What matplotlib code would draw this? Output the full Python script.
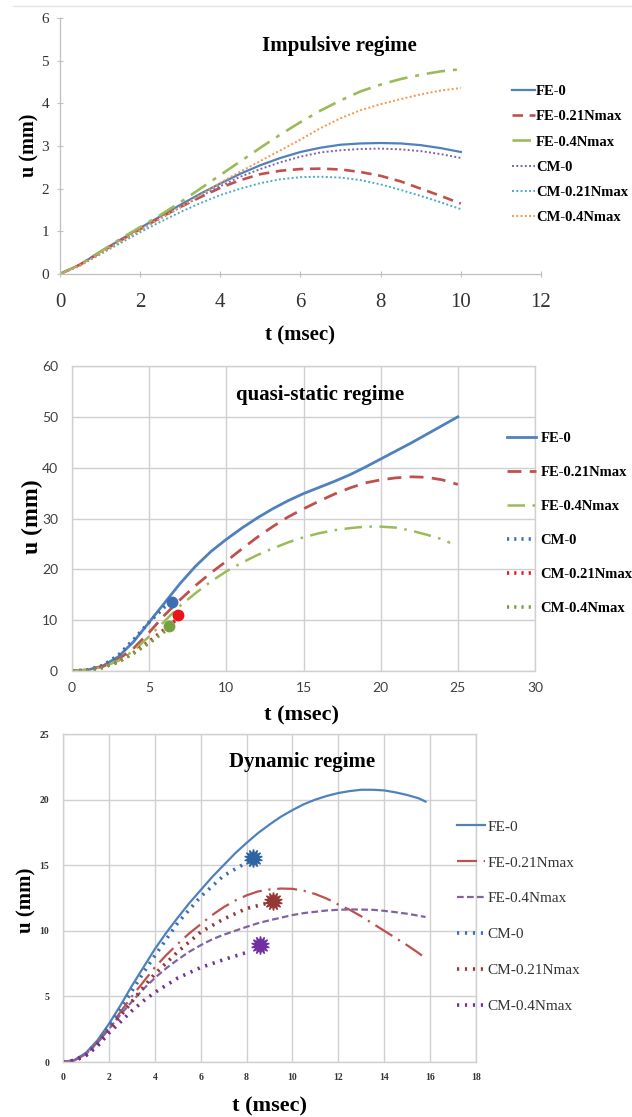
import matplotlib
matplotlib.use("Agg")
import matplotlib.pyplot as plt
from matplotlib.lines import Line2D

SERIF = "Liberation Serif"
SANS = "Lato"

# ---------------- Impulsive regime ----------------
t_imp = [0, 0.5, 1, 1.5, 2, 2.5, 3, 3.5, 4, 4.5, 5, 5.5, 6, 6.5, 7, 7.5, 8, 8.5, 9, 9.5, 10]
imp_fe0 = [0, 0.22, 0.52, 0.80, 1.08, 1.35, 1.62, 1.88, 2.12, 2.35, 2.55, 2.72, 2.86, 2.96, 3.03, 3.06, 3.07, 3.06, 3.02, 2.95, 2.86]
imp_fe021 = [0, 0.22, 0.50, 0.78, 1.05, 1.32, 1.57, 1.80, 2.02, 2.20, 2.34, 2.42, 2.46, 2.47, 2.45, 2.39, 2.30, 2.17, 2.00, 1.83, 1.65]
imp_fe04 = [0, 0.22, 0.52, 0.82, 1.10, 1.38, 1.68, 2.00, 2.32, 2.64, 2.96, 3.27, 3.56, 3.83, 4.07, 4.28, 4.44, 4.57, 4.67, 4.75, 4.80]
imp_cm0 = [0, 0.20, 0.48, 0.76, 1.03, 1.30, 1.56, 1.82, 2.06, 2.28, 2.46, 2.62, 2.75, 2.85, 2.90, 2.93, 2.94, 2.92, 2.88, 2.81, 2.72]
imp_cm021 = [0, 0.20, 0.46, 0.72, 0.98, 1.22, 1.45, 1.66, 1.85, 2.00, 2.13, 2.22, 2.27, 2.28, 2.26, 2.20, 2.10, 1.97, 1.83, 1.68, 1.52]
imp_cm04 = [0, 0.20, 0.48, 0.76, 1.03, 1.30, 1.57, 1.85, 2.14, 2.40, 2.65, 2.90, 3.15, 3.42, 3.65, 3.84, 3.98, 4.10, 4.21, 4.30, 4.36]

# ---------------- Quasi-static regime ----------------
t_qs = list(range(0, 26))
qs_fe0 = [0, 0.2, 1.0, 2.8, 5.8, 9.6, 13.4, 17.2, 20.6, 23.5, 25.9, 28.1, 30.1, 31.9, 33.5, 34.9, 36.1, 37.3, 38.6, 40.1, 41.7, 43.3, 44.9, 46.6, 48.3, 50.0]
qs_fe021 = [0, 0.2, 0.9, 2.3, 4.5, 7.6, 11.0, 14.0, 16.8, 19.3, 21.6, 24.0, 26.3, 28.4, 30.3, 31.9, 33.4, 34.8, 36.0, 37.0, 37.6, 38.0, 38.2, 38.1, 37.6, 36.7]
t_qs_fe04 = list(range(0, 25)) + [24.5]
qs_fe04 = [0, 0.2, 0.8, 2.0, 4.0, 6.8, 9.8, 12.8, 15.3, 17.6, 19.6, 21.3, 22.8, 24.1, 25.3, 26.3, 27.1, 27.7, 28.1, 28.4, 28.4, 28.2, 27.6, 26.8, 25.9, 25.2]
t_qs_cm0 = [0, 1, 2, 3, 4, 5, 6, 6.4]
qs_cm0 = [0, 0.2, 1.1, 3.1, 6.2, 9.6, 12.6, 13.5]
t_qs_cm021 = [0, 1, 2, 3, 4, 5, 6, 6.8]
qs_cm021 = [0, 0.1, 0.7, 1.8, 3.6, 5.8, 8.2, 10.2]
t_qs_cm04 = [0, 1, 2, 3, 4, 5, 6, 6.3]
qs_cm04 = [0, 0.1, 0.7, 1.8, 3.5, 5.5, 7.8, 8.6]
qs_fail_t = [6.5, 6.9, 6.3]
qs_fail_u = [13.6, 11.1, 8.8]

# ---------------- Dynamic regime ----------------
t_dyn = [0, 0.5, 1, 1.5, 2, 2.5, 3, 3.5, 4, 4.5, 5, 5.5, 6, 6.5, 7, 7.5, 8, 8.5, 9, 9.5,
         10, 10.5, 11, 11.5, 12, 12.5, 13, 13.5, 14, 14.5, 15, 15.5, 15.8]
dyn_fe0 = [0, 0.15, 0.7, 1.65, 2.9, 4.3, 5.8, 7.2, 8.6, 9.85, 11.0, 12.1, 13.1, 14.1, 15.0, 15.9, 16.7, 17.45, 18.1, 18.7,
           19.2, 19.65, 20.0, 20.28, 20.5, 20.65, 20.75, 20.75, 20.7, 20.55, 20.35, 20.1, 19.85]
dyn_fe021 = [0, 0.13, 0.6, 1.5, 2.6, 3.8, 5.0, 6.1, 7.2, 8.15, 9.0, 9.8, 10.5, 11.2, 11.8, 12.3, 12.7, 13.0, 13.15, 13.22,
             13.2, 13.05, 12.8, 12.45, 12.0, 11.6, 11.1, 10.55, 10.0, 9.45, 8.9, 8.3, 7.9]
dyn_fe04 = [0, 0.13, 0.6, 1.45, 2.5, 3.6, 4.6, 5.55, 6.4, 7.15, 7.8, 8.4, 8.9, 9.35, 9.7, 10.0, 10.3, 10.58, 10.8, 11.0,
            11.2, 11.35, 11.45, 11.55, 11.6, 11.63, 11.62, 11.6, 11.52, 11.42, 11.3, 11.15, 11.05]
t_dyn_cm0 = [0, 0.5, 1, 1.5, 2, 2.5, 3, 3.5, 4, 5, 6, 7, 8, 8.2]
dyn_cm0 = [0, 0.13, 0.6, 1.5, 2.7, 4.0, 5.4, 6.8, 8.1, 10.6, 12.6, 14.2, 15.2, 15.4]
t_dyn_cm021 = [0, 0.5, 1, 1.5, 2, 2.5, 3, 3.5, 4, 5, 6, 7, 8, 8.9]
dyn_cm021 = [0, 0.1, 0.5, 1.3, 2.4, 3.5, 4.6, 5.7, 6.7, 8.4, 9.9, 10.9, 11.7, 12.1]
t_dyn_cm04 = [0, 0.5, 1, 1.5, 2, 2.5, 3, 3.5, 4, 5, 6, 7, 8]
dyn_cm04 = [0, 0.1, 0.5, 1.2, 2.2, 3.05, 3.9, 4.65, 5.3, 6.4, 7.2, 7.8, 8.35]
dyn_fail_t = [8.3, 9.15, 8.6]
dyn_fail_u = [15.55, 12.3, 8.95]

labels = ["FE-0", "FE-0.21Nmax", "FE-0.4Nmax", "CM-0", "CM-0.21Nmax", "CM-0.4Nmax"]

BLUE = "#4F81BD"
RED = "#C0504D"
GREEN = "#9BBB59"
PURPLE = "#8064A2"
CYAN = "#4BACC6"
ORANGE = "#F79646"
GRID = "#D0D0D0"

W, H = 632, 1117
fig = plt.figure(figsize=(W / 100, H / 100), dpi=100)


def rect(x0, y0, x1, y1):
    return [x0 / W, 1 - y1 / H, (x1 - x0) / W, (y1 - y0) / H]


# thin separator at the very top
fig.add_artist(Line2D([13 / W, 1], [1 - 6 / H, 1 - 6 / H], color="#E3E3E3", lw=1.0))

# ====== Panel 1 ======
ax1 = fig.add_axes(rect(60, 18, 541, 274))
ax1.plot(t_imp, imp_fe0, color=BLUE, lw=1.6, label=labels[0])
ax1.plot(t_imp, imp_fe021, color=RED, lw=1.9, ls=(0, (4, 2.5)), label=labels[1])
ax1.plot(t_imp, imp_fe04, color=GREEN, lw=1.9, ls=(0, (7, 3, 1.5, 3)), label=labels[2])
ax1.plot(t_imp, imp_cm0, color=PURPLE, lw=1.4, ls=(0, (1, 1.2)), label=labels[3])
ax1.plot(t_imp, imp_cm021, color=CYAN, lw=1.4, ls=(0, (1, 1.2)), label=labels[4])
ax1.plot(t_imp, imp_cm04, color=ORANGE, lw=1.4, ls=(0, (1, 1.2)), label=labels[5])
ax1.set_xlim(0, 12)
ax1.set_ylim(0, 6)
ax1.set_xticks(range(0, 13, 2))
ax1.set_yticks(range(0, 7))
for s in ["top", "right"]:
    ax1.spines[s].set_visible(False)
for s in ["left", "bottom"]:
    ax1.spines[s].set_color("#BFBFBF")
    ax1.spines[s].set_linewidth(0.9)
ax1.tick_params(axis="both", color="#BFBFBF", length=4, direction="inout", width=0.8)
ax1.tick_params(axis="x", labelsize=15, pad=12, labelcolor="#333333")
ax1.tick_params(axis="y", labelsize=11, pad=6, labelcolor="#333333")
for lab in ax1.get_xticklabels() + ax1.get_yticklabels():
    lab.set_fontfamily(SERIF)
ax1.text(0.58, 0.89, "Impulsive regime", transform=ax1.transAxes, ha="center", va="center",
         fontsize=15, fontweight="bold", family=SERIF)
fig.text(300 / W, 1 - 335 / H, "t (msec)", ha="center", va="center", fontsize=15,
         fontweight="bold", family=SERIF)
fig.text(29 / W, 1 - 145 / H, "u (mm)", ha="center", va="center", rotation=90,
         fontsize=14.5, fontweight="bold", family=SERIF)
ax1.legend(loc="upper left", bbox_to_anchor=(512 / W, 1 - 85 / H), bbox_transform=fig.transFigure,
           frameon=False, prop={"family": SERIF, "weight": "bold", "size": 10.5},
           handlelength=1.55, handletextpad=0.1, labelspacing=0.82, borderpad=0, borderaxespad=0)

# ====== Panel 2 ======
ax2 = fig.add_axes(rect(72, 366, 535, 671))
ax2.plot(t_qs, qs_fe0, color=BLUE, lw=2.0, label=labels[0])
ax2.plot(t_qs, qs_fe021, color=RED, lw=2.0, ls=(0, (5, 3)), label=labels[1])
ax2.plot(t_qs_fe04, qs_fe04, color=GREEN, lw=1.8, ls=(0, (7, 3, 1, 3)), label=labels[2])
ax2.plot(t_qs_cm0, qs_cm0, color="#3C6EB4", lw=2.6, ls=(0, (0.6, 1.4)), label=labels[3])
ax2.plot(t_qs_cm021, qs_cm021, color="#E8141A", lw=2.6, ls=(0, (0.6, 1.4)), label=labels[4])
ax2.plot(t_qs_cm04, qs_cm04, color="#77A040", lw=2.6, ls=(0, (0.6, 1.4)), label=labels[5])
for xt, yu, c in zip(qs_fail_t, qs_fail_u, ["#3C6EB4", "#E8141A", "#77A040"]):
    ax2.plot([xt], [yu], marker="o", ms=7.5, color=c, ls="none")
ax2.set_xlim(0, 30)
ax2.set_ylim(0, 60)
ax2.set_xticks(range(0, 31, 5))
ax2.set_yticks(range(0, 61, 10))
ax2.grid(True, color=GRID, lw=1.0)
ax2.set_axisbelow(True)
for s in ax2.spines.values():
    s.set_color(GRID)
    s.set_linewidth(1.0)
ax2.tick_params(axis="both", length=0, labelsize=10, labelcolor="#404040")
ax2.tick_params(axis="x", pad=8)
ax2.tick_params(axis="y", pad=10)
for lab in ax2.get_xticklabels() + ax2.get_yticklabels():
    lab.set_fontfamily(SANS)
ax2.text(0.535, 0.905, "quasi-static regime", transform=ax2.transAxes, ha="center", va="center",
         fontsize=15, fontweight="bold", family=SERIF)
fig.text(302 / W, 1 - 715 / H, "t (msec)", ha="center", va="center", fontsize=16,
         fontweight="bold", family=SERIF)
fig.text(32 / W, 1 - 517 / H, "u (mm)", ha="center", va="center", rotation=90,
         fontsize=17, fontweight="bold", family=SERIF)
ax2.legend(loc="upper left", bbox_to_anchor=(507 / W, 1 - 432 / H), bbox_transform=fig.transFigure,
           frameon=False, prop={"family": SERIF, "weight": "bold", "size": 10.5},
           handlelength=2.0, handletextpad=0.3, labelspacing=1.42, borderpad=0, borderaxespad=0)

# ====== Panel 3 ======
ax3 = fig.add_axes(rect(63, 734, 476, 1062))
ax3.plot(t_dyn, dyn_fe0, color=BLUE, lw=1.6, label=labels[0])
ax3.plot(t_dyn, dyn_fe021, color=RED, lw=1.6, ls=(0, (9, 3, 1, 3)), label=labels[1])
ax3.plot(t_dyn, dyn_fe04, color=PURPLE, lw=1.6, ls=(0, (3, 1.5)), label=labels[2])
ax3.plot(t_dyn_cm0, dyn_cm0, color="#3C6EB4", lw=2.6, ls=(0, (0.6, 1.6)), label=labels[3])
ax3.plot(t_dyn_cm021, dyn_cm021, color="#953735", lw=2.6, ls=(0, (0.6, 1.6)), label=labels[4])
ax3.plot(t_dyn_cm04, dyn_cm04, color="#7030A0", lw=2.6, ls=(0, (0.6, 1.6)), label=labels[5])
for xt, yu, c in zip(dyn_fail_t, dyn_fail_u, ["#2F64A3", "#953735", "#7030A0"]):
    ax3.plot([xt], [yu], marker=(14, 1, 0), ms=13, color=c, ls="none")
ax3.set_xlim(0, 18)
ax3.set_ylim(0, 25)
ax3.set_xticks(range(0, 19, 2))
ax3.set_yticks(range(0, 26, 5))
ax3.grid(True, color=GRID, lw=1.0)
ax3.set_axisbelow(True)
for s in ax3.spines.values():
    s.set_color(GRID)
    s.set_linewidth(1.0)
ax3.tick_params(axis="both", length=0, labelsize=7, labelcolor="#333333")
ax3.tick_params(axis="x", pad=8)
ax3.tick_params(axis="y", pad=10)
for lab in ax3.get_xticklabels() + ax3.get_yticklabels():
    lab.set_fontfamily(SERIF)
    lab.set_fontweight("bold")
ax3.text(0.58, 0.915, "Dynamic regime", transform=ax3.transAxes, ha="center", va="center",
         fontsize=15, fontweight="bold", family=SERIF)
fig.text(269 / W, 1 - 1106 / H, "t (msec)", ha="center", va="center", fontsize=16,
         fontweight="bold", family=SERIF)
fig.text(26 / W, 1 - 900 / H, "u (mm)", ha="center", va="center", rotation=90,
         fontsize=15, fontweight="bold", family=SERIF)
ax3.legend(loc="upper left", bbox_to_anchor=(457 / W, 1 - 820 / H), bbox_transform=fig.transFigure,
           frameon=False, prop={"family": SERIF, "size": 11},
           handlelength=1.85, handletextpad=0.15, labelspacing=1.45, borderpad=0, borderaxespad=0,
           labelcolor="#333333")

fig.savefig("out.png", dpi=100, facecolor="white")
